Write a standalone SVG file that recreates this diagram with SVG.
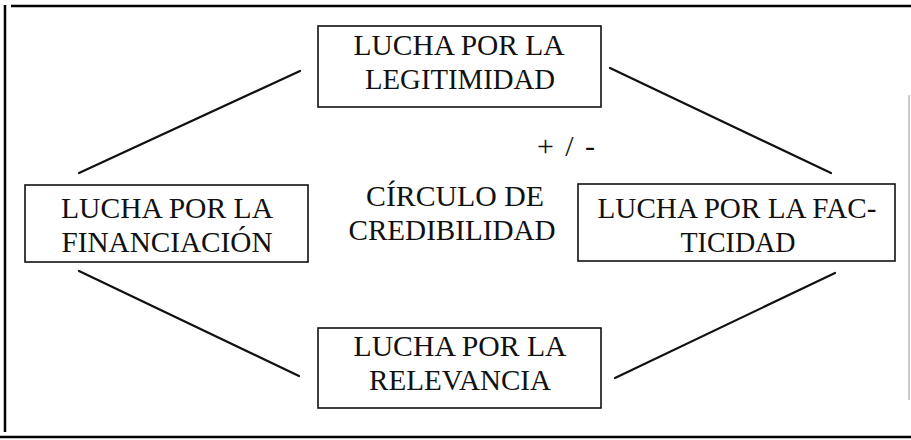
<svg xmlns="http://www.w3.org/2000/svg" width="911" height="440" viewBox="0 0 911 440">
<style>
.box{fill:#fff;stroke:#111;stroke-width:1.6}
.t{font-family:"Liberation Serif","Times New Roman",serif;font-size:30px;fill:#111;text-anchor:middle}
.c{stroke:#111;stroke-width:2.2;fill:none;stroke-linecap:round}
.frame{stroke:#000;stroke-width:2.5;fill:none}
</style>
<rect width="911" height="440" fill="#fff"/>
<g id="frame">
<line class="frame" x1="11" y1="6" x2="911" y2="6"/>
<line class="frame" x1="5" y1="5" x2="5" y2="432"/>
<line class="frame" x1="0" y1="437" x2="911" y2="437"/>
<line x1="909" y1="95" x2="909" y2="400" stroke="#999" stroke-width="1"/>
</g>
<g id="connectors">
<line class="c" x1="300" y1="71" x2="79" y2="173"/>
<line class="c" x1="610" y1="68" x2="831" y2="173"/>
<line class="c" x1="79" y1="271" x2="299" y2="376"/>
<line class="c" x1="835" y1="273" x2="615" y2="378"/>
</g>
<g id="legitimidad">
<rect class="box" x="318" y="26" width="283" height="81"/>
<text class="t" x="459" y="55" textLength="211" lengthAdjust="spacingAndGlyphs">LUCHA POR LA</text>
<text class="t" x="460" y="89" textLength="190" lengthAdjust="spacingAndGlyphs">LEGITIMIDAD</text>
</g>
<g id="financiacion">
<rect class="box" x="25" y="185" width="283" height="77"/>
<text class="t" x="167" y="218" textLength="212" lengthAdjust="spacingAndGlyphs">LUCHA POR LA</text>
<text class="t" x="167" y="252" textLength="211" lengthAdjust="spacingAndGlyphs">FINANCIACIÓN</text>
</g>
<g id="facticidad">
<rect class="box" x="578" y="184" width="317" height="77"/>
<text class="t" x="737" y="218" textLength="279" lengthAdjust="spacingAndGlyphs">LUCHA POR LA FAC-</text>
<text class="t" x="738" y="252" textLength="115" lengthAdjust="spacingAndGlyphs">TICIDAD</text>
</g>
<g id="relevancia">
<rect class="box" x="318" y="328" width="283" height="80"/>
<text class="t" x="460" y="356" textLength="213" lengthAdjust="spacingAndGlyphs">LUCHA POR LA</text>
<text class="t" x="460" y="390" textLength="182" lengthAdjust="spacingAndGlyphs">RELEVANCIA</text>
</g>
<g id="centro">
<text class="t" x="455" y="206" textLength="178" lengthAdjust="spacingAndGlyphs">CÍRCULO DE</text>
<text class="t" x="452" y="240" textLength="207" lengthAdjust="spacingAndGlyphs">CREDIBILIDAD</text>
</g>
<g id="signo">
<text class="t" x="566" y="156" textLength="58" lengthAdjust="spacing">+ / -</text>
</g>
</svg>
